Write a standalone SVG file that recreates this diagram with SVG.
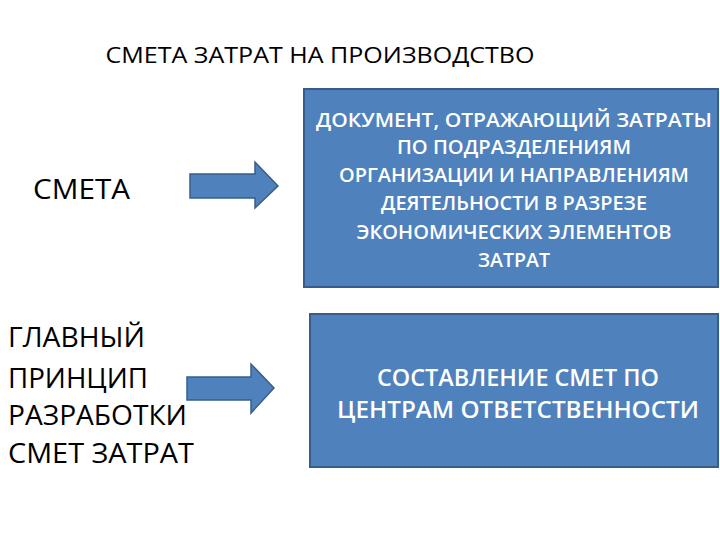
<svg xmlns="http://www.w3.org/2000/svg" width="720" height="540" viewBox="0 0 720 540">
<style>
.box{fill:#4f81bd;stroke:#385d8a;stroke-width:2}
.arr{fill:#4f81bd;stroke:#385d8a;stroke-width:1.5}
.bt{font-family:"Open Sans",sans-serif;font-weight:600;fill:#fff;text-anchor:middle}
.lt{font-family:"Open Sans",sans-serif;fill:#000}
</style>
<rect width="720" height="540" fill="#fff"/>
<text class="lt" x="320" y="63" font-size="21" text-anchor="middle" textLength="429" lengthAdjust="spacingAndGlyphs">СМЕТА ЗАТРАТ НА ПРОИЗВОДСТВО</text>
<g id="n-smeta"><text class="lt" x="33" y="199" font-size="28" textLength="97" lengthAdjust="spacingAndGlyphs">СМЕТА</text></g>
<g id="n-principle"><text class="lt" font-size="27"><tspan x="8" y="347" textLength="137" lengthAdjust="spacingAndGlyphs">ГЛАВНЫЙ</tspan><tspan x="8" y="388" textLength="140" lengthAdjust="spacingAndGlyphs">ПРИНЦИП</tspan><tspan x="8" y="425" textLength="179" lengthAdjust="spacingAndGlyphs">РАЗРАБОТКИ</tspan><tspan x="8" y="463" textLength="186" lengthAdjust="spacingAndGlyphs">СМЕТ ЗАТРАТ</tspan></text></g>
<g id="n-doc"><rect class="box" x="304" y="89" width="414" height="198"/>
<text class="bt" font-size="20"><tspan x="514" y="127" textLength="396" lengthAdjust="spacingAndGlyphs">ДОКУМЕНТ, ОТРАЖАЮЩИЙ ЗАТРАТЫ</tspan><tspan x="514" y="154" textLength="234" lengthAdjust="spacingAndGlyphs">ПО ПОДРАЗДЕЛЕНИЯМ</tspan><tspan x="514" y="182" textLength="350" lengthAdjust="spacingAndGlyphs">ОРГАНИЗАЦИИ И НАПРАВЛЕНИЯМ</tspan><tspan x="514" y="210" textLength="266" lengthAdjust="spacingAndGlyphs">ДЕЯТЕЛЬНОСТИ В РАЗРЕЗЕ</tspan><tspan x="514" y="239" textLength="315" lengthAdjust="spacingAndGlyphs">ЭКОНОМИЧЕСКИХ ЭЛЕМЕНТОВ</tspan><tspan x="514" y="267" textLength="72" lengthAdjust="spacingAndGlyphs">ЗАТРАТ</tspan></text></g>
<g id="n-centers"><rect class="box" x="310" y="314" width="408" height="153"/>
<text class="bt" font-size="24"><tspan x="518" y="386" textLength="282" lengthAdjust="spacingAndGlyphs">СОСТАВЛЕНИЕ СМЕТ ПО</tspan><tspan x="518" y="418" textLength="362" lengthAdjust="spacingAndGlyphs">ЦЕНТРАМ ОТВЕТСТВЕННОСТИ</tspan></text></g>
<g id="connectors">
<polygon class="arr" points="190,174 255,174 255,162 278,186 255,208 255,198 190,198"/>
<polygon class="arr" points="187,377 251,377 251,364 274,388 251,413 251,400 187,400"/>
</g>
</svg>
